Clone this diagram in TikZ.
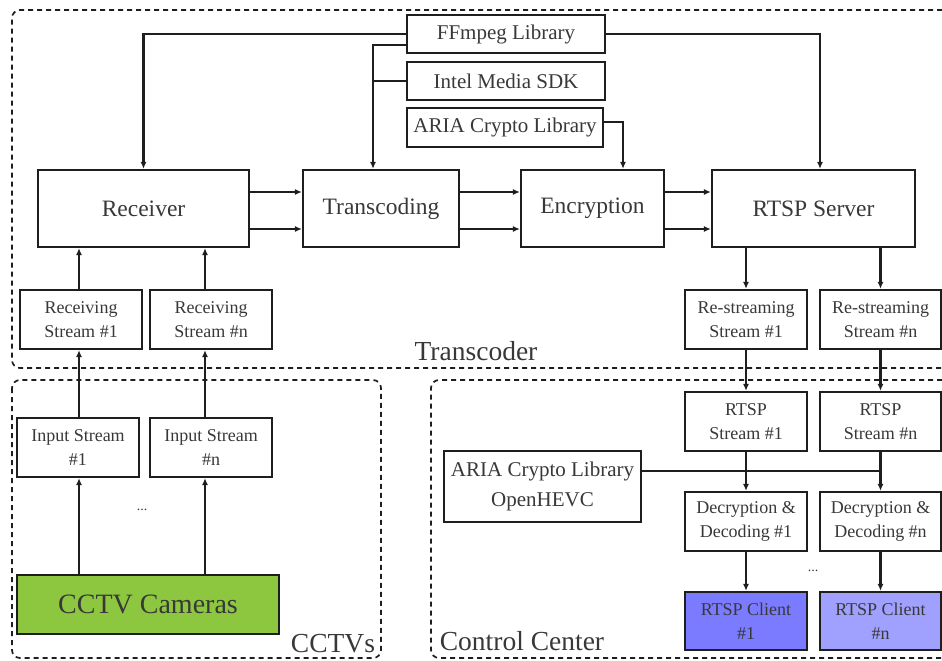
\documentclass[tikz,border=0pt]{standalone}
\usepackage{fontspec}
\setmainfont{Liberation Serif}
\usetikzlibrary{arrows.meta,calc}
\definecolor{linec}{HTML}{1E1E1E}
\definecolor{txtc}{HTML}{383838}
\definecolor{camgreen}{HTML}{8DC63F}
\definecolor{cliA}{HTML}{7B7BFF}
\definecolor{cliB}{HTML}{A0A0FF}
\begin{document}
\begin{tikzpicture}[x=1pt,y=-1pt,
  box/.style={draw=linec, line width=2.2pt, inner sep=0pt, align=center, text=txtc},
  bigbox/.style={box, minimum height=77pt, font=\fontsize{23.5}{26}\selectfont},
  libbox/.style={box, font=\fontsize{21}{30}\selectfont},
  smallbox/.style={box, minimum width=122pt, minimum height=59pt, font=\fontsize{18}{24}\selectfont},
  arr/.style={draw=linec, line width=2.2pt, -{Latex[length=7pt,width=6pt]}},
  ln/.style={draw=linec, line width=2.2pt},
  dsh/.style={draw=linec, line width=1.7pt, dash pattern=on 5pt off 4pt, rounded corners=8pt},
  grouplabel/.style={anchor=base, text=txtc, font=\fontsize{27.5}{30}\selectfont, inner sep=0pt},
  dots/.style={text=txtc, font=\fontsize{14}{14}\selectfont, inner sep=0pt}]
\useasboundingbox (0,0) rectangle (942,661);
\clip (0,0) rectangle (942,661);

% group frames
\draw[dsh] (960,10) -- (12,10) -- (12,368) -- (960,368);
\draw[dsh] (12,380) rectangle (381,658);
\draw[dsh] (960,380) -- (431,380) -- (431,658) -- (960,658);
\node[grouplabel] (lt) at (476,360) {Transcoder};
\node[grouplabel] (lcv) at (333,652) {CCTVs};
\node[grouplabel] (lcc) at (522,650) {Control Center};

% libraries
\node[libbox, minimum width=198pt, minimum height=38pt] (ff) at (506,34) {FFmpeg Library};
\node[libbox, minimum width=198pt, minimum height=38pt] (im) at (506,81) {Intel Media SDK};
\node[libbox, minimum width=196pt, minimum height=39pt] (ar) at (505,127.5) {ARIA Crypto Library};

% main blocks
\node[bigbox, minimum width=211pt] (rx) at (143.5,208.5) {Receiver};
\node[bigbox, minimum width=156pt] (tc) at (381,208.5) {Transcoding};
\node[bigbox, minimum width=143pt] (en) at (592.5,208.5) {Encryption};
\node[bigbox, minimum width=203pt] (rs) at (813.5,208.5) {RTSP Server};

% stream boxes
\node[smallbox] (rv1) at (81,319.5) {Receiving\\Stream \#1};
\node[smallbox] (rvn) at (211,319.5) {Receiving\\Stream \#n};
\node[smallbox] (re1) at (746,319.5) {Re-streaming\\Stream \#1};
\node[smallbox, minimum width=121pt] (ren) at (880.5,319.5) {Re-streaming\\Stream \#n};
\node[smallbox] (in1) at (78,447.5) {Input Stream\\\#1};
\node[smallbox] (inn) at (211,447.5) {Input Stream\\\#n};
\node[box, fill=camgreen, minimum width=262pt, minimum height=59pt, font=\fontsize{28}{30}\selectfont] (cc) at (148,604.5) {CCTV Cameras};
\node[smallbox] (st1) at (746,421.5) {RTSP\\Stream \#1};
\node[smallbox, minimum width=121pt] (stn) at (880.5,421.5) {RTSP\\Stream \#n};
\node[libbox, minimum width=197pt, minimum height=71pt] (ah) at (542.5,486.5) {ARIA Crypto Library\\OpenHEVC};
\node[smallbox] (dd1) at (746,521.5) {Decryption \&\\Decoding \#1};
\node[smallbox, minimum width=121pt] (ddn) at (880.5,521.5) {Decryption \&\\Decoding \#n};
\node[smallbox, fill=cliA, minimum height=58pt] (cl1) at (746,621) {RTSP Client\\\#1};
\node[smallbox, fill=cliB, minimum width=121pt, minimum height=58pt] (cln) at (880.5,621) {RTSP Client\\\#n};

\node[dots] (d1) at (142,510) {...};
\node[dots] (d2) at (813,571) {...};

% library connectors
\draw[arr] (ff.west) -| (rx.north);
\draw[arr] (ff.east) -| ([xshift=6.5pt]rs.north);
\coordinate (tcin) at ([xshift=-8pt]tc.north);
\draw[arr] ([yshift=-11pt]ff.west) -| (tcin);
\draw[ln] (im.west) -- (im.west -| tcin);
\draw[arr] ([yshift=5.5pt]ar.east) -| ([xshift=30.5pt]en.north);

% pipeline arrows
\foreach \s in {16.5,-20.5}{
  \draw[arr] ([yshift=\s pt]rx.east) -- ([yshift=\s pt]tc.west);
  \draw[arr] ([yshift=\s pt]tc.east) -- ([yshift=\s pt]en.west);
  \draw[arr] ([yshift=\s pt]en.east) -- ([yshift=\s pt]rs.west);
}

% left column
\coordinate (xa) at (79,0);
\coordinate (xb) at (205,0);
\draw[arr] (rv1.north -| xa) -- (rx.south -| xa);
\draw[arr] (rvn.north -| xb) -- (rx.south -| xb);
\draw[arr] (in1.north -| xa) -- (rv1.south -| xa);
\draw[arr] (inn.north -| xb) -- (rvn.south -| xb);
\draw[arr] (cc.north -| xa) -- (in1.south -| xa);
\draw[arr] (cc.north -| xb) -- (inn.south -| xb);

% right column
\draw[arr] (rs.south -| re1.north) -- (re1.north);
\draw[arr] (rs.south -| ren.north) -- (ren.north);
\draw[arr] (re1.south) -- (st1.north);
\draw[arr] (ren.south) -- (stn.north);
\draw[arr] (st1.south) -- (dd1.north);
\draw[arr] (stn.south) -- (ddn.north);
\draw[arr] (dd1.south) -- (cl1.north);
\draw[arr] (ddn.south) -- (cln.north);
\coordinate (ja) at ([yshift=15.5pt]ah.east);
\draw[ln] (ja) -- (ja -| ddn.north);
\end{tikzpicture}
\end{document}
